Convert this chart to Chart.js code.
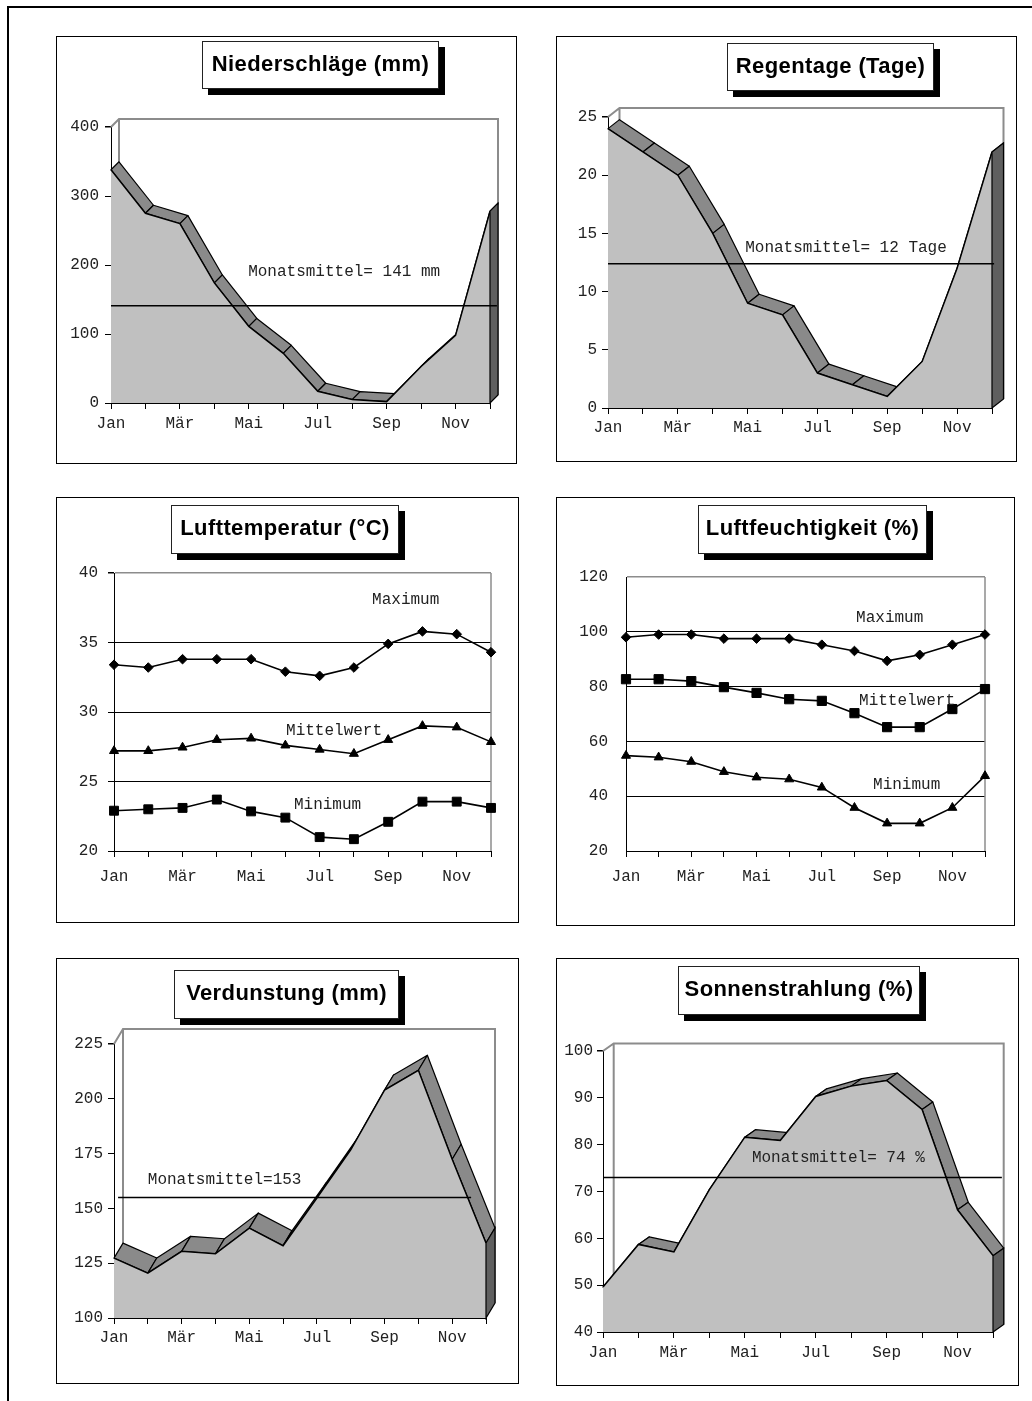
<!DOCTYPE html>
<html lang="de">
<head>
    <meta charset="UTF-8">
    <title>Klimadaten</title>
    <script src="https://cdn.jsdelivr.net/npm/chart.js"></script>
    <style>
        body {
            margin: 0;
            width: 1032px;
            height: 1401px;
            position: relative;
            background: #fff;
            overflow: hidden;
        }
        .frame {
            position: absolute;
            left: 7px;
            top: 6px;
            right: 0;
            bottom: 0;
            border-top: 2px solid #000;
            border-left: 2px solid #000;
        }
        .panel {
            position: absolute;
            box-sizing: border-box;
            border: 1px solid #000;
            background: #fff;
        }
        .panel canvas {
            position: absolute;
            left: 0;
            top: 0;
        }
        .title {
            position: absolute;
            box-sizing: border-box;
            background: #fff;
            border: 1px solid #222;
            box-shadow: 6px 6px 0 #000;
            font: bold 22px "Liberation Sans", Arial, sans-serif;
            letter-spacing: 0.4px;
            display: flex;
            align-items: center;
            justify-content: center;
            padding-bottom: 3px;
            color: #000;
        }
    </style>
</head>
<body>
    <div class="frame"></div>

    <div class="panel" style="left:56px;top:36px;width:461px;height:428px"><canvas id="c1"></canvas></div>
    <div class="panel" style="left:556px;top:36px;width:461px;height:426px"><canvas id="c2"></canvas></div>
    <div class="panel" style="left:56px;top:497px;width:463px;height:426px"><canvas id="c3"></canvas></div>
    <div class="panel" style="left:556px;top:497px;width:459px;height:429px"><canvas id="c4"></canvas></div>
    <div class="panel" style="left:56px;top:958px;width:463px;height:426px"><canvas id="c5"></canvas></div>
    <div class="panel" style="left:556px;top:958px;width:463px;height:428px"><canvas id="c6"></canvas></div>

    <div class="title" style="left:202px;top:41px;width:237px;height:48px">Niederschläge (mm)</div>
    <div class="title" style="left:727px;top:43px;width:207px;height:48px">Regentage (Tage)</div>
    <div class="title" style="left:171px;top:505px;width:228px;height:49px">Lufttemperatur (°C)</div>
    <div class="title" style="left:698px;top:505px;width:229px;height:49px">Luftfeuchtigkeit (%)</div>
    <div class="title" style="left:174px;top:970px;width:225px;height:49px">Verdunstung (mm)</div>
    <div class="title" style="left:678px;top:966px;width:242px;height:49px">Sonnenstrahlung (%)</div>

    <script>
        // Monate (nur jeder zweite wird beschriftet)
        const months = ['Jan', 'Feb', 'Mär', 'Apr', 'Mai', 'Jun', 'Jul', 'Aug', 'Sep', 'Okt', 'Nov', 'Dez'];

        const niederschlag = [338, 275, 260, 174, 111, 72, 17, 5, 2, 53, 98, 278];
        const regentage = [24, 22, 20, 15, 9, 8, 3, 2, 1, 4, 12, 22];

        const tempMax = [33.4, 33.2, 33.8, 33.8, 33.8, 32.9, 32.6, 33.2, 34.9, 35.8, 35.6, 34.3];
        const tempMittel = [27.2, 27.2, 27.45, 28.0, 28.1, 27.6, 27.3, 27.0, 28.0, 29.0, 28.9, 27.85];
        const tempMin = [22.9, 23.0, 23.1, 23.7, 22.85, 22.4, 21.0, 20.85, 22.1, 23.55, 23.55, 23.1];

        const feuchteMax = [98, 99, 99, 97.5, 97.5, 97.5, 95.3, 93, 89.4, 91.6, 95.3, 99];
        const feuchteMittel = [82.7, 82.7, 82, 79.8, 77.7, 75.4, 74.8, 70.3, 65.2, 65.2, 71.8, 79.1];
        const feuchteMin = [54.8, 54.2, 52.6, 48.9, 46.9, 46.2, 43.2, 35.8, 30.1, 30.1, 35.8, 47.4];

        const verdunstung = [127.3, 120.5, 130.4, 129.3, 141, 133, 154.7, 176.7, 204, 213, 172.4, 134.2];
        const sonne = [49.6, 58.7, 57.1, 70.4, 81.6, 80.9, 90.3, 92.5, 93.7, 87.5, 66.1, 56.3];

        // Monatsmittel: Lage der Linie und Beschriftung
        const mittelLinie = [141, 12.4, 155, 73];
        const mittelText = ['Monatsmittel= 141 mm', 'Monatsmittel= 12 Tage', 'Monatsmittel=153', 'Monatsmittel= 74 %'];

        Chart.defaults.font.family = '"Liberation Mono", "Courier New", monospace';
        Chart.defaults.font.size = 16;
        Chart.defaults.color = '#222';

        const GRAY = '#8c8c8c';

        function klimaPlugin(cfg) {
            return {
                id: 'klima',
                beforeDatasetsDraw(chart) {
                    const { ctx, chartArea: a, scales: { x, y } } = chart;
                    ctx.save();
                    if (cfg.depth) {
                        const [dx, dy] = cfg.depth;
                        // Rückwand
                        ctx.strokeStyle = GRAY;
                        ctx.lineWidth = 2;
                        ctx.beginPath();
                        ctx.moveTo(a.left, a.top);
                        ctx.lineTo(a.left + dx, a.top + dy);
                        ctx.lineTo(a.right + dx, a.top + dy);
                        ctx.lineTo(a.right + dx, a.bottom + dy);
                        ctx.moveTo(a.left + dx, a.top + dy);
                        ctx.lineTo(a.left + dx, a.bottom + dy);
                        ctx.stroke();
                        // Oberseite der 3D-Fläche
                        const data = chart.data.datasets[0].data;
                        ctx.fillStyle = '#8a8a8a';
                        ctx.strokeStyle = '#000';
                        ctx.lineWidth = 1.2;
                        ctx.lineJoin = 'round';
                        for (let i = 0; i < data.length - 1; i++) {
                            const x0 = x.getPixelForValue(i), y0 = y.getPixelForValue(data[i]);
                            const x1 = x.getPixelForValue(i + 1), y1 = y.getPixelForValue(data[i + 1]);
                            ctx.beginPath();
                            ctx.moveTo(x0, y0);
                            ctx.lineTo(x1, y1);
                            ctx.lineTo(x1 + dx, y1 + dy);
                            ctx.lineTo(x0 + dx, y0 + dy);
                            ctx.closePath();
                            ctx.fill();
                            ctx.stroke();
                        }
                    } else {
                        ctx.strokeStyle = GRAY;
                        ctx.lineWidth = 1.5;
                        ctx.beginPath();
                        ctx.moveTo(a.right, a.top);
                        ctx.lineTo(a.right, a.bottom);
                        ctx.stroke();
                    }
                    ctx.restore();
                },
                afterDatasetsDraw(chart) {
                    const { ctx, chartArea: a, scales: { x, y } } = chart;
                    ctx.save();
                    if (cfg.depth) {
                        const [dx, dy] = cfg.depth;
                        const data = chart.data.datasets[0].data;
                        const last = data.length - 1;
                        const xr = x.getPixelForValue(last), yr = y.getPixelForValue(data[last]);
                        ctx.fillStyle = '#5f5f5f';
                        ctx.strokeStyle = '#000';
                        ctx.lineWidth = 1.2;
                        ctx.beginPath();
                        ctx.moveTo(xr, yr);
                        ctx.lineTo(xr + dx, yr + dy);
                        ctx.lineTo(xr + dx, a.bottom + dy);
                        ctx.lineTo(xr, a.bottom);
                        ctx.closePath();
                        ctx.fill();
                        ctx.stroke();
                    }
                    if (cfg.mean) {
                        const m = cfg.mean;
                        const ym = y.getPixelForValue(m.value);
                        ctx.strokeStyle = '#000';
                        ctx.lineWidth = 1.5;
                        ctx.beginPath();
                        ctx.moveTo(x.getPixelForValue(m.from), ym);
                        ctx.lineTo(x.getPixelForValue(m.to), ym);
                        ctx.stroke();
                    }
                    ctx.fillStyle = '#222';
                    ctx.font = '16px "Liberation Mono", "Courier New", monospace';
                    ctx.textBaseline = 'middle';
                    ctx.textAlign = 'left';
                    (cfg.notes || []).forEach(n => {
                        ctx.fillText(n.text, x.getPixelForValue(n.x), y.getPixelForValue(n.y));
                    });
                    ctx.restore();
                }
            };
        }

        function makeChart(id, box, plot, opts) {
            const canvas = document.getElementById(id);
            const ox = box[0] + 1, oy = box[1] + 1;
            const cw = box[2] - 2, ch = box[3] - 2;
            canvas.width = cw;
            canvas.height = ch;
            canvas.style.width = cw + 'px';
            canvas.style.height = ch + 'px';
            const [L, T, R, B] = plot;

            return new Chart(canvas, {
                type: 'line',
                data: { labels: months, datasets: opts.datasets },
                options: {
                    responsive: false,
                    animation: false,
                    devicePixelRatio: 1,
                    events: [],
                    layout: { padding: { left: 0, top: T - oy, right: ox + cw - R, bottom: 0 } },
                    plugins: { legend: { display: false }, tooltip: { enabled: false } },
                    elements: { line: { tension: 0 } },
                    scales: {
                        x: {
                            z: 1,
                            offset: false,
                            border: { display: true, color: '#000', width: 1 },
                            grid: { drawOnChartArea: false, drawTicks: true, tickLength: 6, color: '#000', tickColor: '#000' },
                            ticks: {
                                autoSkip: false, maxRotation: 0, minRotation: 0, padding: opts.xPad,
                                callback: (v, i) => i % 2 === 0 ? months[i] : ''
                            },
                            afterFit: s => { s.height = oy + ch - B; }
                        },
                        y: {
                            z: 1,
                            min: opts.min,
                            max: opts.max,
                            border: { display: true, color: '#000', width: 1 },
                            grid: {
                                drawOnChartArea: !!opts.gridLines,
                                drawTicks: opts.yTicks !== false,
                                tickLength: 6,
                                tickColor: '#000',
                                color: c => c.tick.value === opts.max ? GRAY : '#000',
                                lineWidth: c => c.tick.value === opts.max ? 1.5 : 1
                            },
                            ticks: { stepSize: opts.step, padding: opts.yPad },
                            afterFit: s => { s.width = L - ox; }
                        }
                    }
                },
                plugins: [klimaPlugin(opts)]
            });
        }

        function area(data) {
            return [{
                data: data,
                borderColor: '#000',
                borderWidth: 1.5,
                backgroundColor: '#c0c0c0',
                fill: 'start',
                pointRadius: 0
            }];
        }

        function series(data, style, radius) {
            return {
                data: data,
                borderColor: '#000',
                borderWidth: 1.6,
                fill: false,
                pointStyle: style,
                pointRadius: radius,
                pointBackgroundColor: '#000',
                pointBorderColor: '#000',
                pointBorderWidth: 1
            };
        }

        makeChart('c1', [56, 36, 461, 428], [111, 127, 490, 403], {
            datasets: area(niederschlag), min: 0, max: 400, step: 100, xPad: 5, yPad: 6,
            depth: [8, -8],
            mean: { value: mittelLinie[0], from: 0, to: 11.2 },
            notes: [{ text: mittelText[0], x: 3.98, y: 190 }]
        });

        makeChart('c2', [556, 36, 461, 426], [608, 117, 992, 408], {
            datasets: area(regentage), min: 0, max: 25, step: 5, xPad: 4, yPad: 5,
            depth: [11.5, -9],
            mean: { value: mittelLinie[1], from: 0, to: 11.06 },
            notes: [{ text: mittelText[1], x: 3.93, y: 13.8 }]
        });

        makeChart('c3', [56, 497, 463, 426], [114, 573, 491, 851], {
            datasets: [
                series(tempMax, 'rectRot', 4.8),
                series(tempMittel, 'triangle', 5.2),
                series(tempMin, 'rect', 6.3)
            ],
            min: 20, max: 40, step: 5, xPad: 10, yPad: 10, gridLines: true,
            notes: [
                { text: 'Maximum', x: 7.53, y: 38.06 },
                { text: 'Mittelwert', x: 5.02, y: 28.63 },
                { text: 'Minimum', x: 5.25, y: 23.3 }
            ]
        });

        makeChart('c4', [556, 497, 459, 429], [626, 577, 985, 851], {
            datasets: [
                series(feuchteMax, 'rectRot', 4.8),
                series(feuchteMittel, 'rect', 6.5),
                series(feuchteMin, 'triangle', 5.2)
            ],
            min: 20, max: 120, step: 20, xPad: 10, yPad: 18, gridLines: true, yTicks: false,
            notes: [
                { text: 'Maximum', x: 7.05, y: 105 },
                { text: 'Mittelwert', x: 7.14, y: 74.7 },
                { text: 'Minimum', x: 7.57, y: 44.1 }
            ]
        });

        makeChart('c5', [56, 958, 463, 426], [114, 1044, 486, 1318], {
            datasets: area(verdunstung), min: 100, max: 225, step: 25, xPad: 4, yPad: 5,
            depth: [9, -15],
            mean: { value: mittelLinie[2], from: 0.12, to: 10.56 },
            notes: [{ text: mittelText[2], x: 1.0, y: 163 }]
        });

        makeChart('c6', [556, 958, 463, 428], [603, 1051, 993, 1332], {
            datasets: area(sonne), min: 40, max: 100, step: 10, xPad: 5, yPad: 4,
            depth: [10.7, -7.5],
            mean: { value: mittelLinie[3], from: 0, to: 11.25 },
            notes: [{ text: mittelText[3], x: 4.2, y: 77.2 }]
        });
    </script>
</body>
</html>
